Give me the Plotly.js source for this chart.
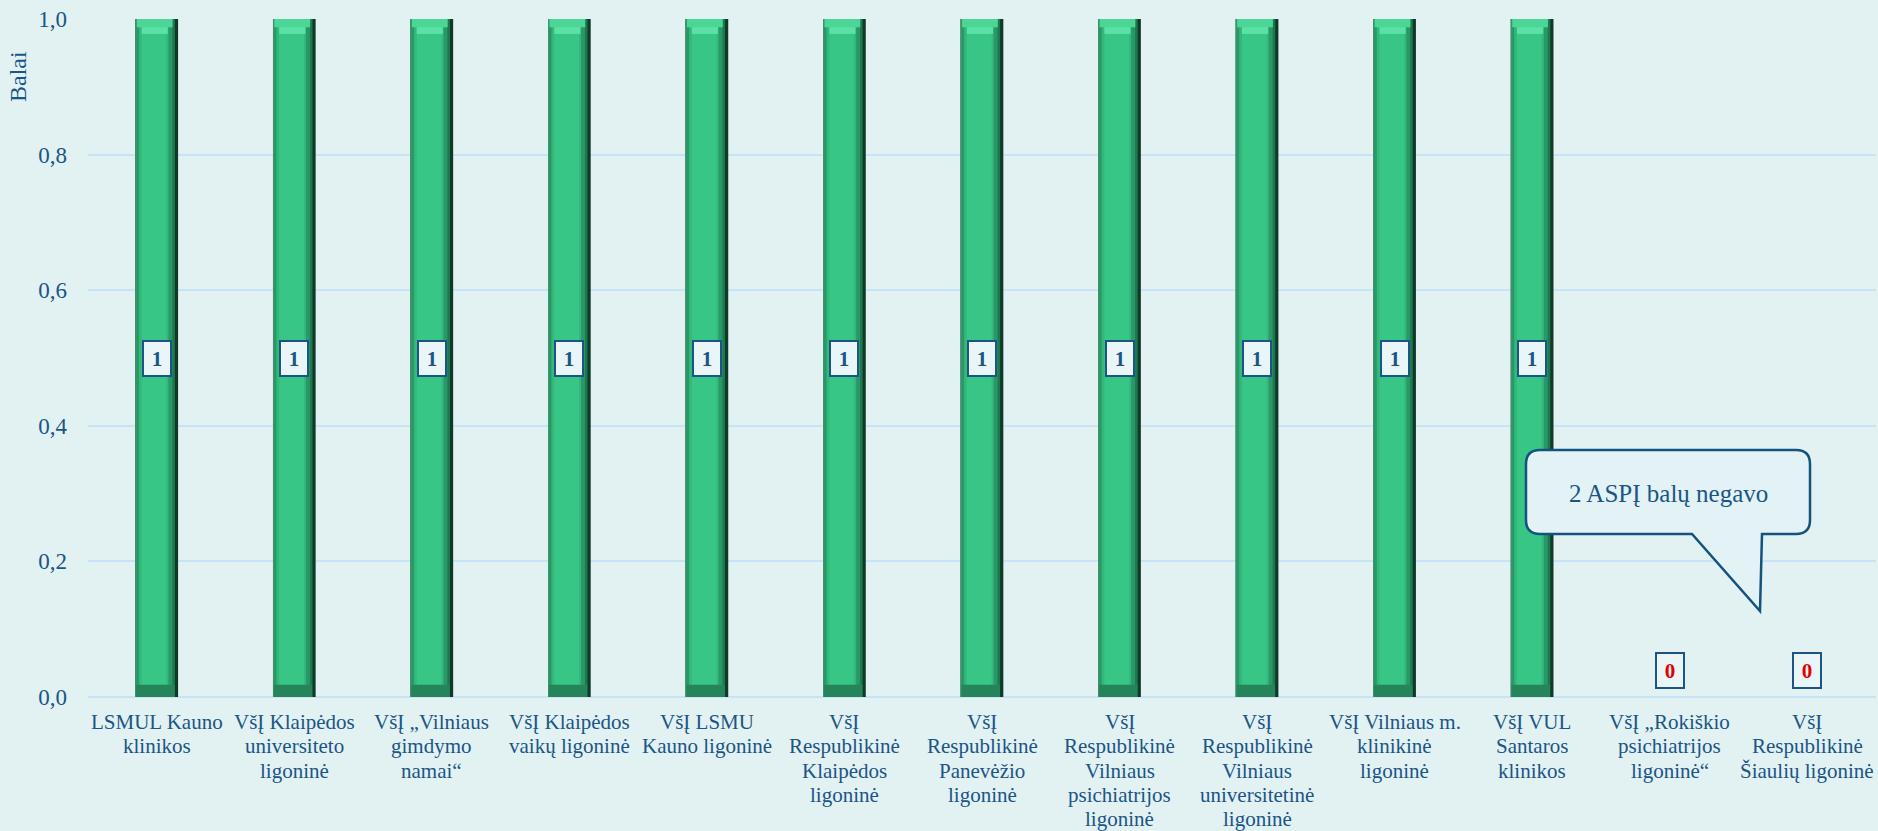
<!DOCTYPE html>
<html>
<head>
<meta charset="utf-8">
<script src="https://cdn.plot.ly/plotly-3.0.1.min.js"></script>
<style>html,body{margin:0;padding:0;background:#e2f1f2;}#chart{width:1878px;height:831px;}</style>
</head>
<body>
<div id="chart"></div>
<script>
const categories = [
  "LSMUL Kauno<br>klinikos",
  "VšĮ Klaipėdos<br>universiteto<br>ligoninė",
  "VšĮ „Vilniaus<br>gimdymo<br>namai“",
  "VšĮ Klaipėdos<br>vaikų ligoninė",
  "VšĮ LSMU<br>Kauno ligoninė",
  "VšĮ<br>Respublikinė<br>Klaipėdos<br>ligoninė",
  "VšĮ<br>Respublikinė<br>Panevėžio<br>ligoninė",
  "VšĮ<br>Respublikinė<br>Vilniaus<br>psichiatrijos<br>ligoninė",
  "VšĮ<br>Respublikinė<br>Vilniaus<br>universitetinė<br>ligoninė",
  "VšĮ Vilniaus m.<br>klinikinė<br>ligoninė",
  "VšĮ VUL<br>Santaros<br>klinikos",
  "VšĮ „Rokiškio<br>psichiatrijos<br>ligoninė“",
  "VšĮ<br>Respublikinė<br>Šiaulių ligoninė"
];
const values = [1, 1, 1, 1, 1, 1, 1, 1, 1, 1, 1, 0, 0];
const yTicks = [0, 0.2, 0.4, 0.6, 0.8, 1.0];
const calloutText = "2 ASPĮ balų negavo";
const yTitle = "Balai";

const FONT = 'Liberation Serif, Times New Roman, serif';
const BLUE = '#1a5586';
const x = categories.map((c, i) => i);

function bar(w, off, color, yv, base) {
  const t = {type: 'bar', x: x, y: yv, width: w, offset: off,
    marker: {color: color, line: {width: 0}}, hoverinfo: 'skip', showlegend: false};
  if (base) t.base = base;
  return t;
}
const hi1 = values.map(v => v * 0.012);
const hi1Base = values.map(v => v * 0.988);
const hi2 = values.map(v => v * 0.01);
const hi2Base = values.map(v => v * 0.978);
const lo = values.map(v => v * 0.018);
const traces = [
  bar(0.31, -0.155, '#0e3a27', values),
  bar(0.287, -0.155, '#1d7850', values),
  bar(0.268, -0.155, '#2a9866', values),
  bar(0.215, -0.13, '#33b87c', values),
  bar(0.18, -0.11, '#37c686', values),
  bar(0.006, -0.155, '#4f8f73', values),
  bar(0.26, -0.145, '#4bd697', hi1, hi1Base),
  bar(0.19, -0.11, '#5be0a5', hi2, hi2Base),
  bar(0.28, -0.15, '#25845a', lo)
];

const L = 88, R = 1876, T = 19, B = 697;
const px = (v) => (v - L) / (R - L);
const py = (v) => (B - v) / (B - T);
function P(a, b) { return px(a).toFixed(5) + ',' + py(b).toFixed(5); }
const x1 = 1526, x2 = 1810, y1 = 450, y2 = 534, r = 14;
const path = 'M' + P(x1 + r, y1) + ' L' + P(x2 - r, y1) + ' Q' + P(x2, y1) + ' ' + P(x2, y1 + r) +
  ' L' + P(x2, y2 - r) + ' Q' + P(x2, y2) + ' ' + P(x2 - r, y2) +
  ' L' + P(1762, y2) + ' L' + P(1760, 611) + ' L' + P(1692, y2) +
  ' L' + P(x1 + r, y2) + ' Q' + P(x1, y2) + ' ' + P(x1, y2 - r) +
  ' L' + P(x1, y1 + r) + ' Q' + P(x1, y1) + ' ' + P(x1 + r, y1) + ' Z';

const annotations = values.map((v, i) => ({
  x: i, y: v > 0 ? v / 2 : 0, xref: 'x', yref: 'y', xanchor: 'center',
  yanchor: v > 0 ? 'middle' : 'bottom', yshift: v > 0 ? 0 : 8,
  text: '<b>' + v + '</b>', showarrow: false,
  font: {family: FONT, size: 21, color: v > 0 ? BLUE : '#e00000'},
  bgcolor: '#eaf5f7', bordercolor: BLUE, borderwidth: 2, borderpad: 3,
  width: 20, height: 27
}));
// category labels, one line per annotation with tight (Excel-like) line spacing
categories.forEach((c, i) => {
  c.split('<br>').forEach((line, k) => {
    annotations.push({
      x: i, y: 0, xref: 'x', yref: 'y', xanchor: 'center', yanchor: 'middle',
      yshift: -(25 + 24.3 * k), text: line, showarrow: false,
      font: {family: FONT, size: 21, color: BLUE}
    });
  });
});
annotations.push({
  xref: 'paper', yref: 'paper', x: px(1668), y: py(493), xanchor: 'center', yanchor: 'middle',
  text: calloutText, showarrow: false, font: {family: FONT, size: 25, color: BLUE}
});
annotations.push({
  xref: 'paper', yref: 'paper', x: px(18), y: py(77), xanchor: 'center', yanchor: 'middle',
  text: yTitle, textangle: -90,
  showarrow: false, font: {family: FONT, size: 24, color: BLUE}
});

const layout = {
  width: 1878, height: 831,
  margin: {l: L, r: 1878 - R, t: T, b: 831 - B},
  paper_bgcolor: '#e2f1f2', plot_bgcolor: '#e2f1f2',
  barmode: 'overlay', separators: ', ',
  showlegend: false,
  xaxis: {
    tickvals: x, range: [-0.5, categories.length - 0.5], showticklabels: false,
    showgrid: false, zeroline: false, showline: false, ticks: '', fixedrange: true
  },
  yaxis: {
    range: [0, 1.0], tickvals: yTicks, tickformat: '.1f',
    showgrid: true, gridcolor: '#c7e4f6', gridwidth: 2,
    zeroline: true, zerolinecolor: '#c7e4f6', zerolinewidth: 2,
    showline: false, ticks: '', ticklabelstandoff: 20,
    tickfont: {family: FONT, size: 23, color: BLUE}, fixedrange: true
  },
  shapes: [{
    type: 'path', xref: 'paper', yref: 'paper', path: path,
    fillcolor: '#e3f2f4', line: {color: '#14527f', width: 2.5}, layer: 'above'
  }],
  annotations: annotations
};
Plotly.newPlot('chart', traces, layout, {displayModeBar: false, staticPlot: true});
</script>
</body>
</html>
